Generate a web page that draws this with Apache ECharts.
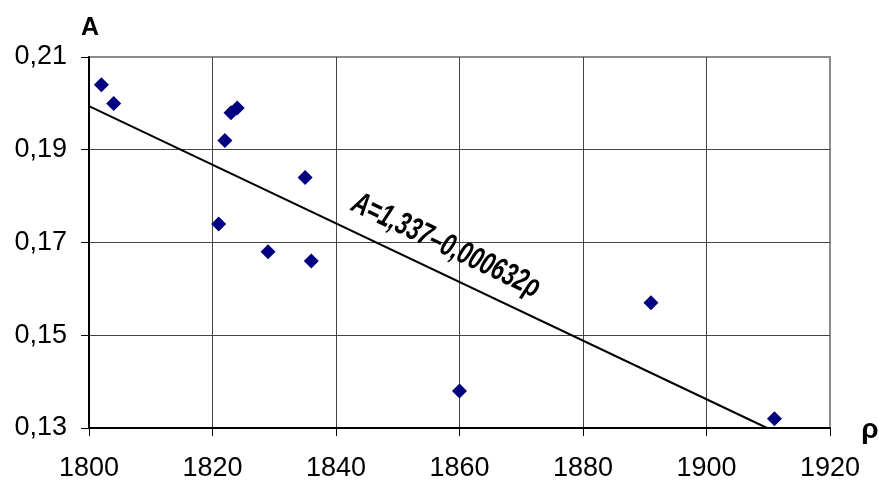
<!DOCTYPE html>
<html><head><meta charset="utf-8">
<script src="https://cdn.jsdelivr.net/npm/echarts@6/dist/echarts.min.js"></script>
<style>html,body{margin:0;padding:0;background:#fff}#c{width:879px;height:482px}</style>
</head><body><div id="c"></div>
<script>
const rhoValues = [1802, 1804, 1822, 1823, 1824, 1821, 1829, 1835, 1836, 1860, 1891, 1911];
const aValues   = [0.204, 0.200, 0.192, 0.198, 0.199, 0.174, 0.168, 0.184, 0.166, 0.138, 0.157, 0.132];
const xTicks = [1800, 1820, 1840, 1860, 1880, 1900, 1920];
const yTicks = [0.13, 0.15, 0.17, 0.19, 0.21];
const intercept = 1.337;
const slope = 0.000632;
const equationText = 'A=1,337–0,000632ρ';

const xMin = xTicks[0], xMax = xTicks[xTicks.length-1];
const yMin = yTicks[0], yMax = yTicks[yTicks.length-1];
const lineStart = [xMin, intercept - slope*xMin];
const lineEnd = [(intercept - yMin)/slope, yMin];

const chart = echarts.init(document.getElementById('c'));
const fmtY = v => v.toFixed(2).replace('.', ',');
const fmtX = v => String(v);
chart.setOption({
  animation: false,
  grid: {left: 89, right: 49, top: 57, bottom: 53, show: true, borderColor: '#8c8c8c', borderWidth: 2, backgroundColor: 'transparent'},
  xAxis: {
    type: 'value', min: xMin, max: xMax, interval: 20,
    axisLine: {show: true, onZero: false, lineStyle: {color: '#000', width: 2}},
    axisTick: {show: true, inside: false, length: 8, lineStyle: {color: '#000', width: 1}},
    axisLabel: {fontFamily: 'Liberation Sans, Arial, sans-serif', fontSize: 27, color: '#000', margin: 27, formatter: fmtX},
    splitLine: {show: true, showMinLine: false, showMaxLine: false, lineStyle: {color: '#444', width: 1}}
  },
  yAxis: {
    type: 'value', min: yMin, max: yMax, interval: 0.02,
    axisLine: {show: true, onZero: false, lineStyle: {color: '#000', width: 2}},
    axisTick: {show: true, inside: false, length: 8, lineStyle: {color: '#000', width: 1}},
    axisLabel: {fontFamily: 'Liberation Sans, Arial, sans-serif', fontSize: 27, color: '#000', margin: 22, formatter: fmtY},
    splitLine: {show: true, showMinLine: false, showMaxLine: false, lineStyle: {color: '#444', width: 1}}
  },
  series: [
    {type: 'line', data: [lineStart, lineEnd], symbol: 'none', lineStyle: {color: '#000', width: 2}, z: 3},
    {type: 'scatter', data: rhoValues.map((r, i) => [r, aValues[i]]), symbol: 'diamond', symbolSize: 15,
     itemStyle: {color: '#000080', opacity: 1}, z: 4}
  ]
});

const labelPos = chart.convertToPixel({gridIndex: 0}, [1857.8, 0.1693]);
const a = chart.convertToPixel({gridIndex: 0}, [xMin, yMax]);
const rPos = chart.convertToPixel({gridIndex: 0}, [xMax, yMin]);
chart.setOption({
  graphic: [
    {type: 'text', x: a[0] + 1, y: 28, style: {text: 'A', font: 'bold 25px Liberation Sans, Arial, sans-serif', fill: '#000', align: 'center', verticalAlign: 'middle'}},
    {type: 'text', x: rPos[0] + 40, y: rPos[1] + 2, style: {text: 'ρ', font: 'bold 28px Liberation Sans, Arial, sans-serif', fill: '#000', align: 'center', verticalAlign: 'middle'}},
    {type: 'text', x: labelPos[0], y: labelPos[1], rotation: -25.5*Math.PI/180, scaleX: 0.7,
     style: {text: equationText, font: 'italic bold 32px "Liberation Sans", Arial, sans-serif', fill: '#000', align: 'center', verticalAlign: 'middle'}}
  ]
});
</script></body></html>
